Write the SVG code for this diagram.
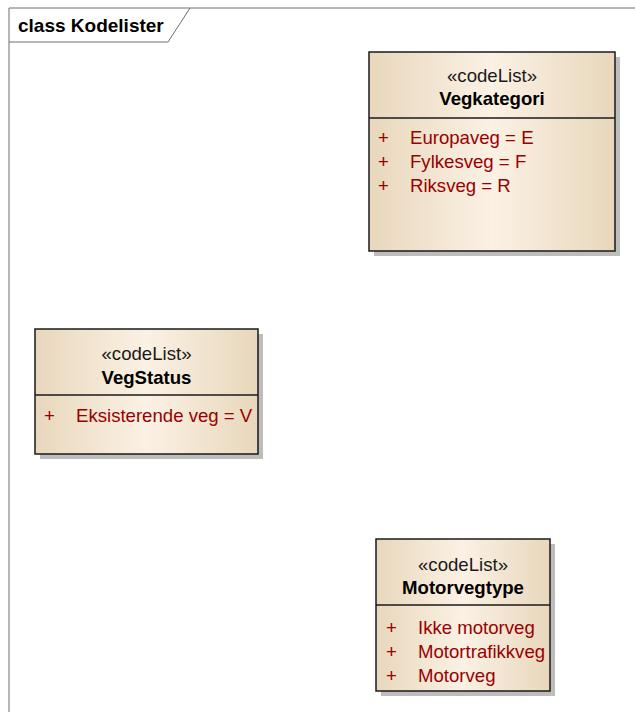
<svg xmlns="http://www.w3.org/2000/svg" width="635" height="712" viewBox="0 0 635 712">
<defs>
<linearGradient id="g" x1="0" y1="0" x2="1" y2="0">
<stop offset="0" stop-color="#E8D7BC"/>
<stop offset="0.5" stop-color="#FBF1E4"/>
<stop offset="1" stop-color="#E8D7BC"/>
</linearGradient>
</defs>
<style>
.frame{fill:none;stroke:#6e6e6e;stroke-width:1}
.shadow{fill:#BDBDBD}
.box{fill:url(#g);stroke:#1a1a1a;stroke-width:1.5}
.div{stroke:#1a1a1a;stroke-width:1.5}
text{font-family:"Liberation Sans",Arial,sans-serif;font-size:18.6px}
.st{text-anchor:middle;fill:#1a1a1a}
.nm{text-anchor:middle;font-weight:bold;fill:#000}
.at{fill:#990000}
.title{font-weight:bold;fill:#000;font-size:19px}
</style>
<rect x="0" y="0" width="635" height="712" fill="#fff"/>
<g id="frame">
<path class="frame" d="M9,712 V8 H635"/>
<path class="frame" d="M9,42 H168 L190,8"/>
<text class="title" x="18" y="32">class Kodelister</text>
</g>
<g id="Vegkategori">
<rect class="shadow" x="374" y="57" width="246" height="199"/>
<rect class="box" x="369" y="52" width="246" height="199"/>
<line class="div" x1="369" y1="118" x2="615" y2="118"/>
<text class="st" x="492" y="82">«codeList»</text>
<text class="nm" x="492" y="105">Vegkategori</text>
<text class="at" x="378" y="144">+</text><text class="at" x="410" y="144">Europaveg = E</text>
<text class="at" x="378" y="168">+</text><text class="at" x="410" y="168">Fylkesveg = F</text>
<text class="at" x="378" y="192">+</text><text class="at" x="410" y="192">Riksveg = R</text>
</g>
<g id="VegStatus">
<rect class="shadow" x="40" y="334" width="223" height="125"/>
<rect class="box" x="35" y="329" width="223" height="125"/>
<line class="div" x1="35" y1="395" x2="258" y2="395"/>
<text class="st" x="146.5" y="360">«codeList»</text>
<text class="nm" x="146.5" y="384">VegStatus</text>
<text class="at" x="44" y="422">+</text><text class="at" x="76" y="422">Eksisterende veg = V</text>
</g>
<g id="Motorvegtype">
<rect class="shadow" x="381" y="544" width="174" height="152"/>
<rect class="box" x="376" y="539" width="174" height="152"/>
<line class="div" x1="376" y1="605" x2="550" y2="605"/>
<text class="st" x="463" y="571">«codeList»</text>
<text class="nm" x="463" y="594">Motorvegtype</text>
<text class="at" x="386" y="634">+</text><text class="at" x="418" y="634">Ikke motorveg</text>
<text class="at" x="386" y="658">+</text><text class="at" x="418" y="658">Motortrafikkveg</text>
<text class="at" x="386" y="682">+</text><text class="at" x="418" y="682">Motorveg</text>
</g>
<g id="connectors"/>
</svg>
